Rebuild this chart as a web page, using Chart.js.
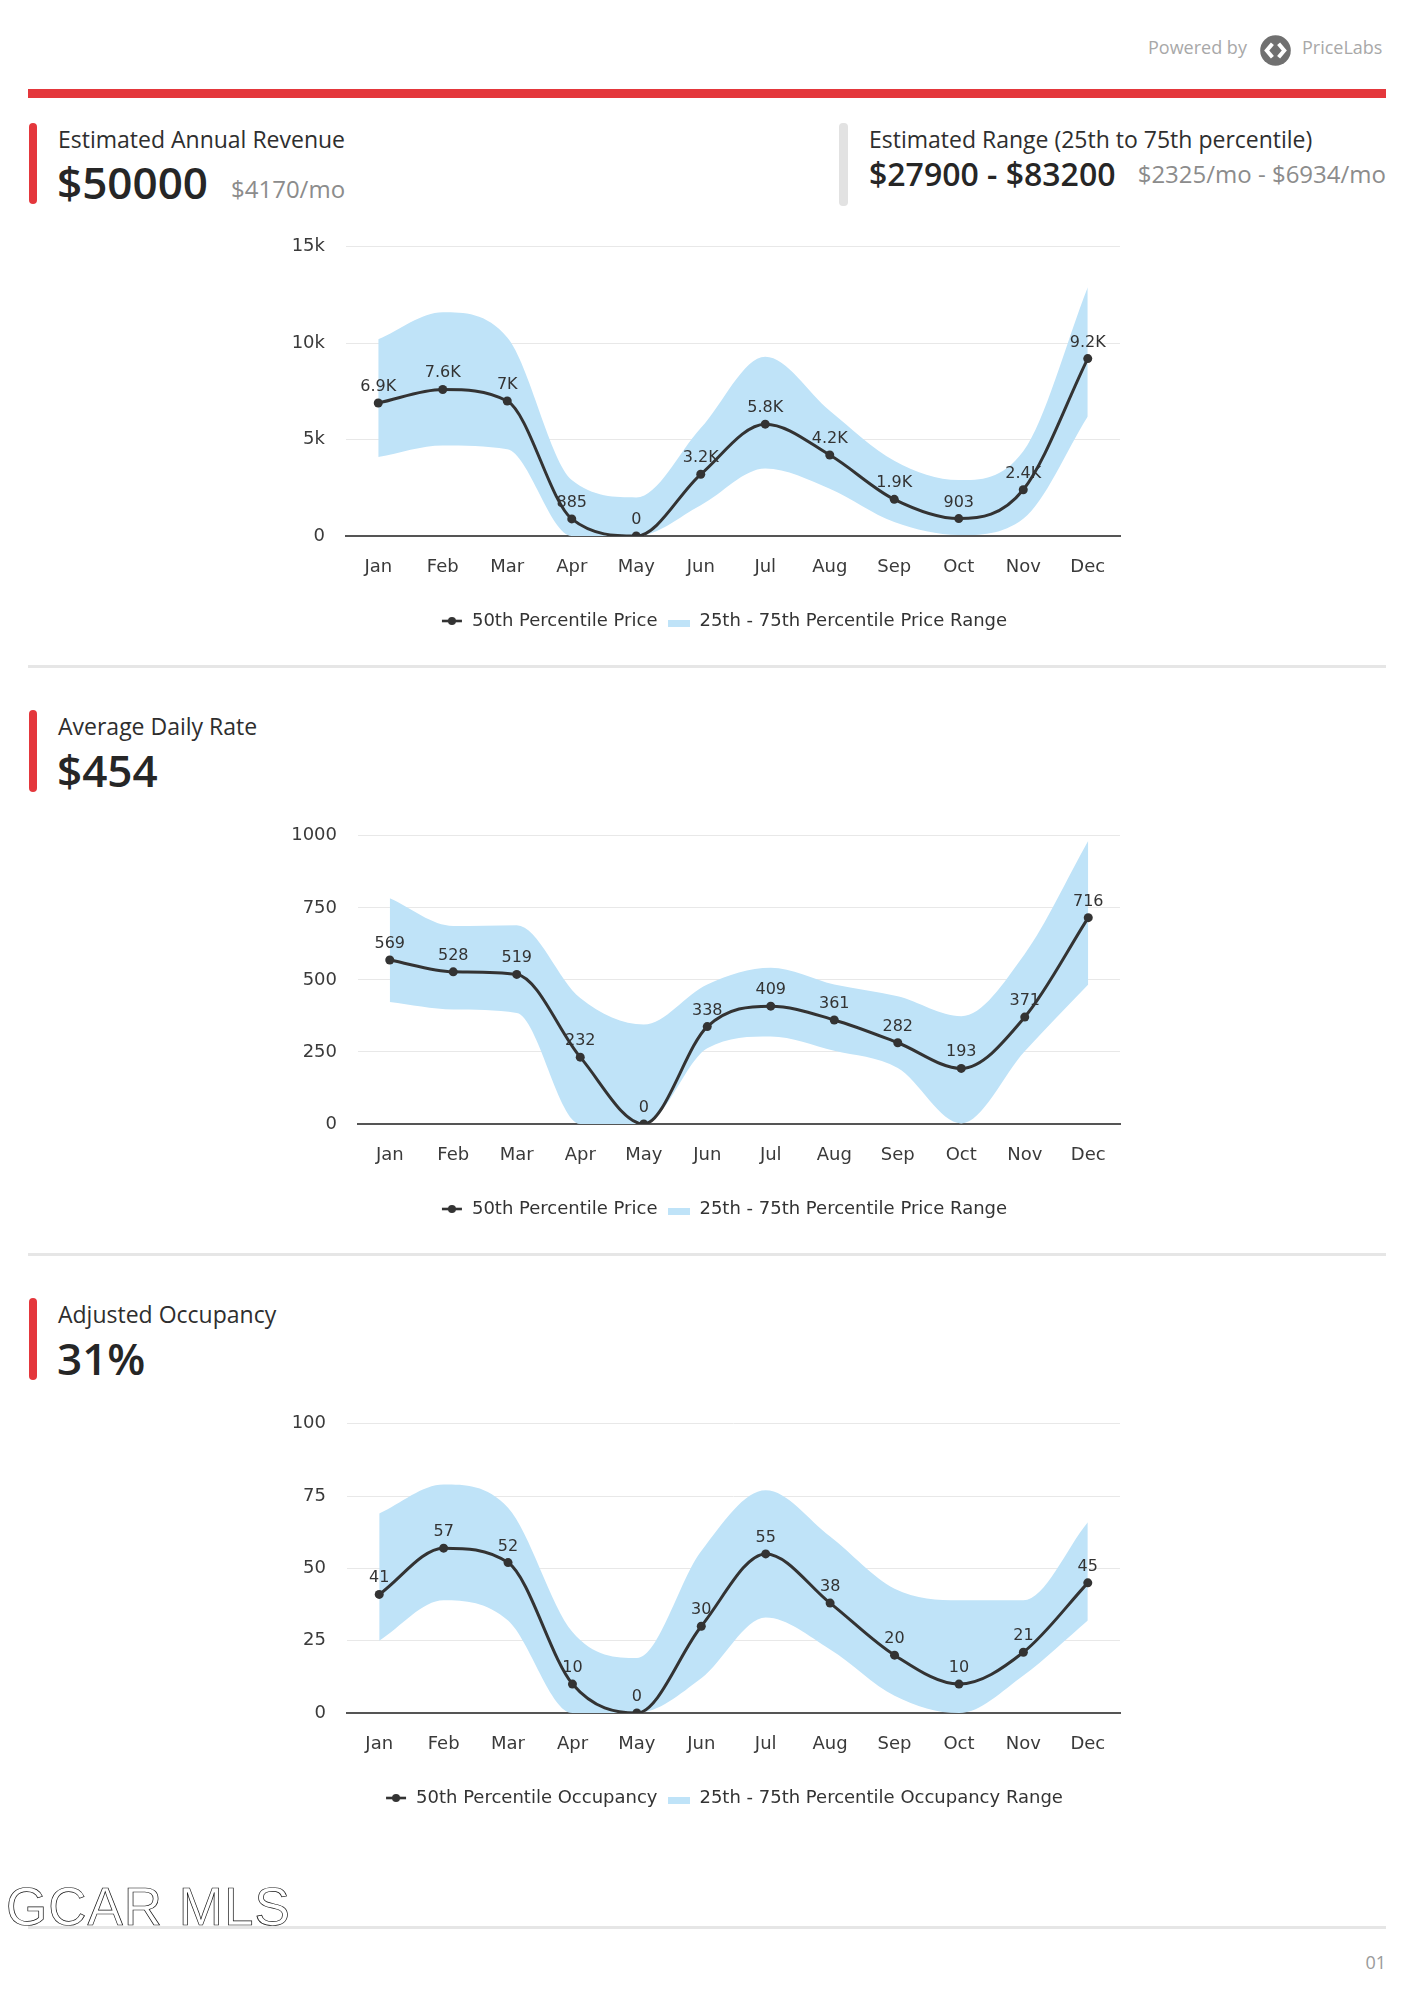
<!DOCTYPE html>
<html><head><meta charset="utf-8">
<script src="https://cdn.jsdelivr.net/npm/chart.js@4.4.1/dist/chart.umd.min.js"></script>
<style>
html,body{margin:0;padding:0;background:#fff;}
body{width:1414px;height:2000px;position:relative;overflow:hidden;font-family:"Open Sans",sans-serif;color:#2b2b2b;}
.a{position:absolute;white-space:nowrap;line-height:1;}
.bar{position:absolute;width:8px;border-radius:4px;background:#e4373c;}
.gbar{position:absolute;width:9px;border-radius:4px;background:#e2e2e2;}
.sep{position:absolute;left:28px;width:1358px;height:3px;background:#e6e6e6;}
.title{font-size:23px;color:#2e2e2e;}
.big{font-size:44px;font-weight:600;color:#262626;}
.sub{font-size:24px;color:#8c8c8c;}
canvas{position:absolute;}
</style></head><body>

<div class="a" style="left:1148px;top:38px;font-size:18px;color:#a8a8a8;">Powered by</div>
<svg style="position:absolute;left:1260px;top:35px;" width="31" height="31" viewBox="0 0 30 30">
  <circle cx="15" cy="15" r="14.8" fill="#707070"/>
  <path d="M12 8.5 L6.5 15 L12 21.5 M18 8.5 L23.5 15 L18 21.5" stroke="#fff" stroke-width="3.8" fill="none" stroke-linejoin="miter"/>
</svg>
<div class="a" style="left:1302px;top:38px;font-size:18px;color:#a8a8a8;">PriceLabs</div>
<div style="position:absolute;left:28px;top:89px;width:1358px;height:9px;background:#e4373c;"></div>

<div class="bar" style="left:29px;top:123px;height:81px;"></div>
<div class="a title" style="left:58px;top:128px;">Estimated Annual Revenue</div>
<div class="a big" style="left:57px;top:160px;">$50000</div>
<div class="a sub" style="left:231px;top:177px;">$4170/mo</div>

<div class="gbar" style="left:839px;top:123px;height:83px;"></div>
<div class="a title" style="left:869px;top:128px;">Estimated Range (25th to 75th percentile)</div>
<div class="a" style="left:869px;top:158px;font-size:32px;font-weight:600;color:#262626;">$27900 - $83200</div>
<div class="a sub" style="right:28px;top:162px;">$2325/mo - $6934/mo</div>

<canvas id="c1" width="968" height="425" style="left:240px;top:215px;width:968px;height:425px;"></canvas>

<div class="sep" style="top:665px;"></div>

<div class="bar" style="left:29px;top:710px;height:82px;"></div>
<div class="a title" style="left:58px;top:715px;">Average Daily Rate</div>
<div class="a big" style="left:57px;top:748px;">$454</div>

<canvas id="c2" width="968" height="424" style="left:240px;top:804px;width:968px;height:424px;"></canvas>

<div class="sep" style="top:1253px;"></div>

<div class="bar" style="left:29px;top:1298px;height:82px;"></div>
<div class="a title" style="left:58px;top:1303px;">Adjusted Occupancy</div>
<div class="a big" style="left:57px;top:1336px;">31%</div>

<canvas id="c3" width="968" height="425" style="left:240px;top:1392px;width:968px;height:425px;"></canvas>

<div class="sep" style="top:1926px;"></div>
<div class="a" style="left:6px;top:1880px;font-family:'Liberation Sans',sans-serif;font-size:53px;color:transparent;-webkit-text-stroke:0.7px #111;letter-spacing:1px;">GCAR MLS</div>
<div class="a" style="right:28px;top:1953px;font-size:18px;color:#9a9a9a;">01</div>

<script>
const MONTHS = ['Jan','Feb','Mar','Apr','May','Jun','Jul','Aug','Sep','Oct','Nov','Dec'];

const REV_MEDIAN = [6900, 7600, 7000, 885, 0, 3200, 5800, 4200, 1900, 903, 2400, 9200];
const REV_LOW    = [4100, 4700, 4500, 0, 0, 1600, 3500, 2450, 720, 50, 900, 6200];
const REV_HIGH   = [10200, 11600, 10300, 2900, 2000, 5600, 9300, 6500, 3900, 2900, 4400, 12900];
const REV_TICK_LABELS = ['0', '5k', '10k', '15k'];

const ADR_MEDIAN = [569, 528, 519, 232, 0, 338, 409, 361, 282, 193, 371, 716];
const ADR_LOW    = [423, 397, 385, 0, 0, 263, 304, 254, 194, 2, 252, 484];
const ADR_HIGH   = [783, 687, 690, 437, 345, 484, 542, 484, 443, 374, 590, 983];
const ADR_TICK_LABELS = ['0', '250', '500', '750', '1000'];

const OCC_MEDIAN = [41, 57, 52, 10, 0, 30, 55, 38, 20, 10, 21, 45];
const OCC_LOW    = [25, 39, 32, 0, 0, 12, 33, 22, 6, 0, 13, 32];
const OCC_HIGH   = [69, 79, 71, 28, 19, 56, 77, 61, 43, 39, 39, 66];
const OCC_TICK_LABELS = ['0', '25', '50', '75', '100'];

const FONT = '"DejaVu Sans", Verdana, sans-serif';
const LINE_COLOR = '#333333';
const BAND_COLOR = '#bfe3f8';
const TEXT_COLOR = '#3a3a3a';

function legendLineImg() {
  const c = document.createElement('canvas'); c.width = 22; c.height = 10;
  const g = c.getContext('2d');
  g.strokeStyle = LINE_COLOR; g.lineWidth = 2.6;
  g.beginPath(); g.moveTo(1, 5); g.lineTo(21, 5); g.stroke();
  g.fillStyle = LINE_COLOR; g.beginPath(); g.arc(11, 5, 4, 0, Math.PI * 2); g.fill();
  return c;
}
function legendBoxImg() {
  const c = document.createElement('canvas'); c.width = 22; c.height = 12;
  const g = c.getContext('2d');
  g.fillStyle = BAND_COLOR; g.fillRect(0, 5, 22, 7);
  return c;
}

function kFmt(v) {
  if (v >= 1000) { return (Math.round(v / 100) / 10).toString() + 'K'; }
  return String(v);
}

function makeChart(id, o) {
  const lineImg = legendLineImg(), boxImg = legendBoxImg();
  const valueLabels = {
    id: 'valueLabels',
    afterDatasetsDraw(chart) {
      const meta = chart.getDatasetMeta(0);
      const ctx = chart.ctx;
      ctx.save();
      ctx.font = '16px ' + FONT;
      ctx.fillStyle = '#333';
      ctx.textAlign = 'center';
      ctx.textBaseline = 'alphabetic';
      meta.data.forEach((pt, i) => ctx.fillText(o.fmt(o.median[i]), pt.x, pt.y - 12));
      ctx.restore();
    }
  };
  return new Chart(document.getElementById(id), {
    type: 'line',
    data: {
      labels: MONTHS,
      datasets: [
        { label: o.medianLabel, data: o.median, borderColor: LINE_COLOR, backgroundColor: LINE_COLOR,
          borderWidth: 3, pointRadius: 4.5, pointBackgroundColor: LINE_COLOR, pointBorderWidth: 0,
          cubicInterpolationMode: 'monotone', fill: false },
        { label: o.rangeLabel, data: o.high, borderWidth: 0, borderColor: 'rgba(0,0,0,0)', pointRadius: 0,
          backgroundColor: BAND_COLOR, fill: '+1', cubicInterpolationMode: 'monotone' },
        { label: 'low', data: o.low, borderWidth: 0, borderColor: 'rgba(0,0,0,0)', pointRadius: 0,
          fill: false, cubicInterpolationMode: 'monotone' }
      ]
    },
    options: {
      responsive: false, animation: false, devicePixelRatio: 1,
      layout: { padding: { top: 0, left: 0, right: 0, bottom: 0 } },
      plugins: {
        tooltip: { enabled: false },
        legend: {
          position: 'bottom',
          labels: {
            usePointStyle: true, pointStyleWidth: 22, padding: 11,
            font: { family: FONT, size: 18 }, color: '#333',
            filter: (item) => item.datasetIndex !== 2,
            generateLabels: (chart) => {
              const items = Chart.defaults.plugins.legend.labels.generateLabels(chart);
              items.forEach((it) => {
                if (it.datasetIndex === 0) it.pointStyle = lineImg;
                if (it.datasetIndex === 1) it.pointStyle = boxImg;
              });
              return items;
            }
          }
        }
      },
      scales: {
        x: {
          offset: true,
          grid: { display: false, drawTicks: false, offset: true },
          border: { display: true, color: '#555', width: 2 },
          ticks: { font: { family: FONT, size: 18 }, color: TEXT_COLOR, padding: 21, maxRotation: 0 },
          afterFit(s) { s.height = 65; }
        },
        y: {
          min: 0, max: o.max,
          ticks: { stepSize: o.step, font: { family: FONT, size: 18 }, color: TEXT_COLOR, padding: 21,
                   callback: (v, i) => o.tickLabels[i] },
          grid: { drawTicks: false, color: (c) => (c.tick && c.tick.value === 0) ? '#555' : '#e8e8e8',
                  lineWidth: (c) => (c.tick && c.tick.value === 0) ? 2 : 1 },
          border: { display: false },
          afterFit(s) { s.width = o.yw; }
        },
        y2: {
          position: 'right', display: true,
          ticks: { display: false }, grid: { display: false, drawTicks: false }, border: { display: false },
          afterFit(s) { s.width = 88; }
        }
      }
    },
    plugins: [valueLabels]
  });
}

makeChart('c1', { median: REV_MEDIAN, low: REV_LOW, high: REV_HIGH, max: 15000, step: 5000,
  tickLabels: REV_TICK_LABELS, fmt: kFmt, yw: 106,
  medianLabel: '50th Percentile Price', rangeLabel: '25th - 75th Percentile Price Range' });
makeChart('c2', { median: ADR_MEDIAN, low: ADR_LOW, high: ADR_HIGH, max: 1000, step: 250,
  tickLabels: ADR_TICK_LABELS, fmt: (v) => String(v), yw: 118,
  medianLabel: '50th Percentile Price', rangeLabel: '25th - 75th Percentile Price Range' });
makeChart('c3', { median: OCC_MEDIAN, low: OCC_LOW, high: OCC_HIGH, max: 100, step: 25,
  tickLabels: OCC_TICK_LABELS, fmt: (v) => String(v), yw: 107,
  medianLabel: '50th Percentile Occupancy', rangeLabel: '25th - 75th Percentile Occupancy Range' });
</script>
</body></html>
